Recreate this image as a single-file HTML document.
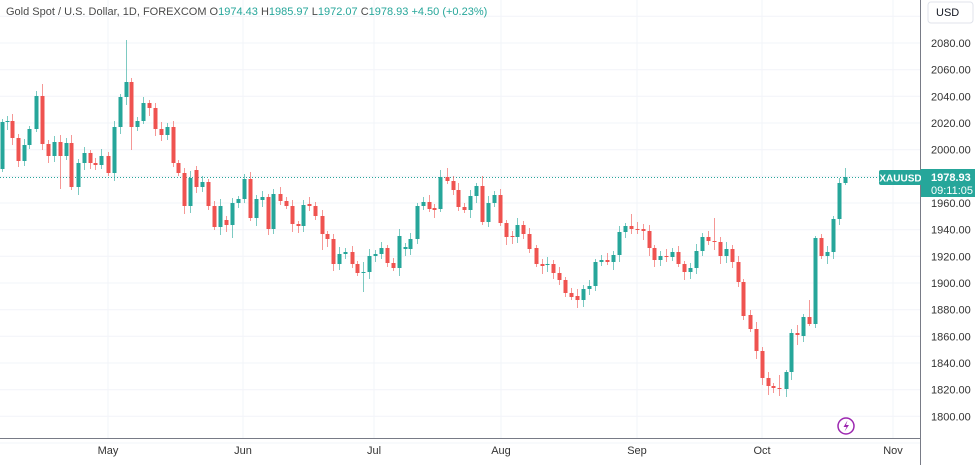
<!DOCTYPE html>
<html><head><meta charset="utf-8">
<style>
html,body{margin:0;padding:0;background:#fff;}
body{width:975px;height:465px;overflow:hidden;position:relative;font-family:"Liberation Sans",sans-serif;}
svg{position:absolute;left:0;top:0;}
</style></head><body>
<svg id="s" width="975" height="465" xmlns="http://www.w3.org/2000/svg">
<g id="grid" stroke="#f2f4f9" stroke-width="1"></g>
<line x1="0" y1="177.5" x2="920" y2="177.5" stroke="#26a69a" stroke-width="1" stroke-dasharray="1,2"/>
<g id="c"></g>
<line x1="920.5" y1="0" x2="920.5" y2="465" stroke="#787b86" stroke-width="1"/>
<line x1="0" y1="438.5" x2="920" y2="438.5" stroke="#787b86" stroke-width="1"/>
<g font-size="11" fill="#333" id="yl"></g>
<g font-size="11" fill="#333" text-anchor="middle">
<text x="108" y="454">May</text><text x="243" y="454">Jun</text><text x="374" y="454">Jul</text>
<text x="501" y="454">Aug</text><text x="637" y="454">Sep</text><text x="762" y="454">Oct</text><text x="893" y="454">Nov</text>
</g>
<rect x="928" y="2" width="45" height="21" rx="3" fill="#fff" stroke="#e0e3eb"/>
<text x="936" y="16" font-size="11" fill="#131722">USD</text>
<rect x="879" y="170" width="43" height="15" rx="2" fill="#26a69a"/>
<text x="900.5" y="181.5" font-size="10" fill="#fff" text-anchor="middle" font-weight="bold">XAUUSD</text>
<rect x="921" y="169" width="54" height="28" fill="#26a69a"/>
<text x="931" y="181" font-size="11" fill="#fff" font-weight="bold">1978.93</text>
<text x="931" y="194" font-size="11" fill="#fff">09:11:05</text>
<circle cx="846" cy="426" r="8" fill="#fff" stroke="#9c27b0" stroke-width="1.5"/>
<path d="M847.5 420.5 L843.5 427 L846.5 427 L844.5 431.5 L849 425 L846 425 Z" fill="#9c27b0"/>
<text x="6" y="15" font-size="11" fill="#26a69a"><tspan fill="#4a4a4a">Gold Spot / U.S. Dollar, 1D, FOREXCOM  O</tspan>1974.43 <tspan fill="#4a4a4a">H</tspan>1985.97 <tspan fill="#4a4a4a">L</tspan>1972.07 <tspan fill="#4a4a4a">C</tspan>1978.93 +4.50 (+0.23%)</text>
</svg>
<script>
var NS="http://www.w3.org/2000/svg";
function el(p,t,a){var e=document.createElementNS(NS,t);for(var k in a)e.setAttribute(k,a[k]);p.appendChild(e);return e;}
var g=document.getElementById('grid'),yl=document.getElementById('yl');
for(var i=-1;i<16;i++){var y=43+i*26.667;el(g,'line',{x1:0,x2:920,y1:y.toFixed(1),y2:y.toFixed(1)});
 var p=2080-20*i; if(i>=0&&i<=14&&p!=1980){var t=el(yl,'text',{x:931,y:(y+4).toFixed(1)});t.textContent=p.toFixed(2);}}
[108,243,374,501,637,762,893].forEach(function(x){el(g,'line',{x1:x,x2:x,y1:0,y2:438});});
var d="2,122,169,1;7,121,122,1;12,121,138,0;18,138,161,0;24,145,161,1;29,129,145,1;36,96,129,1;42,96,144,0;48,144,156,0;54,142,156,1;60,142,156,0;66,143,156,1;71,143,187,0;78,163,187,1;84,153,163,1;90,153,163,0;95,163,165,0;101,156,165,1;108,156,173,0;114,127,173,1;120,97,127,1;126,82,97,1;131,82,127,0;137,121,127,1;143,103,121,1;149,103,108,0;155,108,129,0;161,129,135,0;167,127,135,1;173,127,163,0;178,163,173,0;184,173,206,0;190,178,206,1;196,170,187,0;202,182,187,1;208,182,206,0;214,206,227,0;220,206,227,1;226,220,225,0;232,203,225,1;238,199,203,1;"+
"244,179,199,1;250,179,218,0;256,199,218,1;262,197,200,1;268,197,229,0;273,194,229,1;280,194,201,0;286,201,206,0;292,206,224,0;298,224,226,0;303,205,226,1;309,204,206,0;315,206,216,0;322,216,234,0;327,234,239,0;333,239,264,0;339,254,264,1;345,252,254,1;352,252,264,0;357,264,273,0;363,272,273,1;369,256,272,1;375,254,256,1;381,248,254,1;387,248,263,0;393,263,268,0;399,236,268,1;405,247,249,1;410,239,249,1;417,206,239,1;423,202,206,1;429,202,209,0;434,208,210,0;440,177,209,1;447,177,181,0;453,181,190,0;458,190,207,0;464,207,210,0;"+
"470,196,210,1;476,186,196,1;482,186,222,0;488,203,222,1;494,195,203,1;500,195,223,0;506,223,237,0;512,236,237,0;517,225,237,1;523,225,234,0;529,234,249,0;536,248,264,0;542,264,266,0;547,264,265,1;553,264,273,0;559,273,280,0;565,280,293,0;571,293,297,0;577,296,300,0;583,289,300,1;589,286,289,1;595,262,286,1;601,260,262,1;607,260,262,0;613,255,262,1;619,232,255,1;625,226,232,1;631,226,229,0;637,229,230,0;643,229,231,0;649,231,248,0;654,248,260,0;660,256,260,1;666,256,257,0;672,252,257,1;678,252,264,0;684,264,272,0;690,268,272,1;696,251,268,1;"+
"702,237,251,1;708,237,241,0;714,241,242,0;720,242,256,0;726,249,256,1;732,249,262,0;738,262,282,0;743,282,316,0;750,315,329,0;756,329,351,0;762,351,378,0;768,378,386,0;773,386,388,0;779,388,389,0;786,372,389,1;791,333,372,1;797,333,335,0;803,317,336,1;809,317,324,0;815,238,324,1;821,238,256,0;827,252,256,1;833,219,252,1;839,183,219,1;845,177,183,1";
var W={126:[40,105],60:[135,189],42:[84,150],131:[78,150],71:[135,190],232:[198,238],322:[210,250],363:[262,292],440:[170,212],447:[168,184],482:[176,225],631:[214,234],643:[224,240],714:[218,250],815:[236,328],797:[325,345],809:[300,326],845:[168,185],779:[375,396],786:[370,397],768:[372,395]};
var c=document.getElementById('c');
d.split(';').forEach(function(s,i){var a=s.split(',').map(Number);var x=a[0],t=a[1],b=a[2],col=a[3]?'#26a69a':'#ef5350';
 var w=W[x]||[t-3-(i*7%5),b+3+(i*5%6)];
 el(c,'line',{x1:x+0.5,x2:x+0.5,y1:w[0],y2:w[1],stroke:col,'stroke-width':1,'stroke-opacity':0.6});
 el(c,'rect',{x:x-1.5,y:t,width:4,height:Math.max(1,b-t),fill:col});});
</script>
</body></html>
